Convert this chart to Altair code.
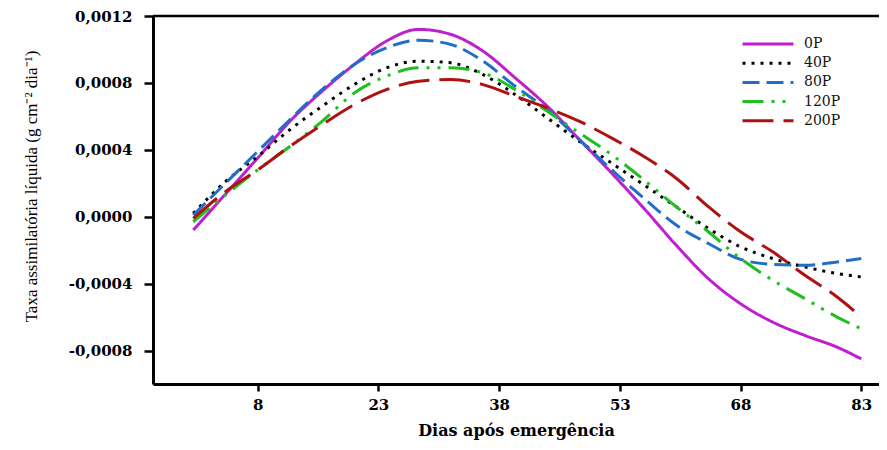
import altair as alt
import pandas as pd

# ---- data -------------------------------------------------------------------
days = [0, 4, 8, 12, 16, 20, 24, 28, 32, 36, 40, 44, 48, 52, 56, 60, 64, 68, 72, 76, 80, 83]

p0 = [-0.00008, 0.000135, 0.00035, 0.00057, 0.00075, 0.00091, 0.00105, 0.00112, 0.00109,
      0.00099, 0.00083, 0.00066, 0.00046, 0.00026, 0.00005, -0.00017, -0.00037, -0.00052,
      -0.00063, -0.00071, -0.00078, -0.00085]
p40 = [0.00002, 0.00021, 0.00036, 0.00052, 0.00066, 0.00079, 0.00089, 0.00093, 0.00092,
       0.00085, 0.00073, 0.00059, 0.00045, 0.00032, 0.00019, 0.00006, -0.00007, -0.00018,
       -0.00025, -0.0003, -0.00034, -0.00036]
p80 = [0.00001, 0.0002, 0.00039, 0.00058, 0.00076, 0.00091, 0.00101, 0.001055, 0.00103,
       0.00093, 0.00078, 0.00064, 0.00046, 0.00028, 0.00011, -0.00005, -0.00016, -0.000255,
       -0.000285, -0.00029, -0.00027, -0.00025]
p120 = [-0.00003, 0.00013, 0.00028, 0.00042, 0.00057, 0.00074, 0.00084, 0.00089, 0.00089,
        0.00086, 0.00076, 0.00063, 0.0005, 0.00037, 0.00022, 0.00006, -0.00009, -0.00025,
        -0.00038, -0.00049, -0.0006, -0.00067]
p200 = [-0.00001, 0.00015, 0.00028, 0.00042, 0.00055, 0.00067, 0.00076, 0.00081, 0.00082,
        0.00079, 0.00072, 0.00065, 0.00057, 0.00047, 0.00036, 0.00023, 0.00006, -0.00009,
        -0.00021, -0.00035, -0.00048, -0.0006]

series_names = ["0P", "40P", "80P", "120P", "200P"]
series_values = [p0, p40, p80, p120, p200]

x_ticks = [8, 23, 38, 53, 68, 83]
y_ticks = [-0.0008, -0.0004, 0.0, 0.0004, 0.0008, 0.0012]

# ---- styles -----------------------------------------------------------------
colors = ["#bf1fcf", "#000000", "#1f6fc8", "#1fbf1f", "#b01010"]
dashes = [[1, 0], [3, 6], [17, 7], [21, 8, 3, 8, 3, 8], [31, 10]]

rows = []
for name, vals in zip(series_names, series_values):
    for d, v in zip(days, vals):
        rows.append({"dia": d, "taxa": v, "trat": name})
df = pd.DataFrame(rows)

x_scale = alt.Scale(domain=[-5, 85.2], nice=False, zero=False)
y_scale = alt.Scale(domain=[-0.001, 0.0012], nice=False, zero=False)

legend_opts = dict(title=None, orient="none", legendX=588, legendY=20,
                   symbolType="stroke", symbolSize=2601, clipHeight=16,
                   symbolStrokeWidth=3, labelOffset=9,
                   labelFont="DejaVu Serif", labelFontSize=14,
                   labelColor="#111", rowPadding=3.2, padding=0)

lines = alt.Chart(df).mark_line(
    strokeWidth=3, interpolate="monotone", strokeCap="butt", strokeJoin="round"
).encode(
    x=alt.X("dia:Q", scale=x_scale,
            axis=alt.Axis(values=x_ticks, title="Dias após emergência",
                          titleY=46, titleBaseline="middle")),
    y=alt.Y("taxa:Q", scale=y_scale,
            axis=alt.Axis(values=y_ticks,
                          labelExpr="replace(replace(format(datum.value, '.4f'), '.', ','), '\u2212', '-')",
                          title="Taxa assimilatória líquida (g cm\u207b\u00b2 dia\u207b\u00b9)",
                          titleX=-122, titleY=170, titleAngle=-90,
                          titleBaseline="middle", titleAlign="center")),
    color=alt.Color("trat:N", scale=alt.Scale(domain=series_names, range=colors),
                    legend=alt.Legend(**legend_opts)),
    strokeDash=alt.StrokeDash("trat:N", scale=alt.Scale(domain=series_names, range=dashes),
                              legend=alt.Legend(**legend_opts)),
)

top_border = alt.Chart(pd.DataFrame({"y": [0.0012]})).mark_rule(
    color="black", strokeWidth=2.5
).encode(y=alt.Y("y:Q", scale=y_scale))

chart = alt.layer(top_border, lines).properties(
    width=726, height=368,
    autosize="none",
    padding={"left": 145, "top": 8, "right": 0, "bottom": 58},
    background="white",
).configure_view(stroke=None).configure_axis(
    grid=False,
    domainColor="black", domainWidth=3,
    tickColor="black", tickWidth=2.5,
    labelFont="DejaVu Serif", labelFontWeight="bold", labelFontSize=15, labelColor="black",
    titleColor="black",
).configure_axisY(
    tickSize=9, labelPadding=12,
    titleFont="Liberation Serif", titleFontWeight="normal", titleFontSize=17,
).configure_axisX(
    tickSize=7, labelPadding=6,
    titleFont="DejaVu Serif", titleFontWeight="bold", titleFontSize=16,
)

chart.save("out.html", embed_options={"renderer": "svg", "actions": False})
